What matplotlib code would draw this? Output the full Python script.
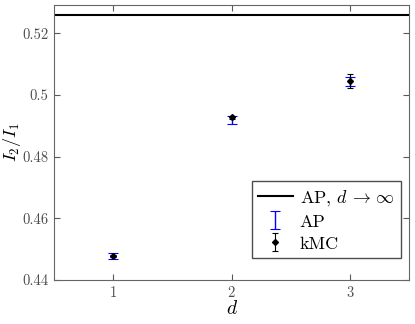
import matplotlib
matplotlib.use("Agg")
import matplotlib.pyplot as plt
from matplotlib.ticker import FuncFormatter

plt.rcParams['font.family'] = 'serif'
plt.rcParams['font.serif'] = ['cmr10', 'DejaVu Serif']
plt.rcParams['mathtext.fontset'] = 'cm'
plt.rcParams['axes.formatter.use_mathtext'] = True

d = [1, 2, 3]
ap_vals = [0.4478, 0.4920, 0.5044]
ap_err = [0.0010, 0.0013, 0.0015]
kmc_vals = [0.4478, 0.4928, 0.5046]
kmc_err = [0.0004, 0.0004, 0.0022]
ap_limit = 0.5260

fig = plt.figure(figsize=(4.15, 3.24), dpi=100)
ax = fig.add_axes([0.130, 0.136, 0.856, 0.850])

ax.axhline(ap_limit, color='black', lw=1.5, label=r'AP, $d\,\to\,\infty$')
ax.errorbar(d, ap_vals, yerr=ap_err, fmt='none', ecolor='blue', elinewidth=1,
            capsize=3.5, capthick=0.8, label='AP')
ax.errorbar(d, kmc_vals, yerr=kmc_err, fmt='D', color='black', markersize=3,
            elinewidth=0.8, capsize=2, capthick=0.8, label='kMC')

ax.set_xlim(0.5, 3.5)
ax.set_ylim(0.44, 0.5294)
ax.set_xticks([1, 2, 3])
ax.set_yticks([0.44, 0.46, 0.48, 0.5, 0.52])
ax.yaxis.set_major_formatter(FuncFormatter(lambda v, p: '%g' % round(v, 3)))
ax.tick_params(direction='in', top=True, right=True, labelsize=10.5,
               colors='0.35', labelcolor='0.3', length=4, pad=4)
for s in ax.spines.values():
    s.set_color('0.4')

ax.set_xlabel(r'$d$', fontsize=14, labelpad=0)
ax.set_ylabel(r'$I_2/I_1$', fontsize=13)
ax.yaxis.set_label_coords(-0.088, 0.5)

leg = ax.legend(loc='lower right', bbox_to_anchor=(0.977, 0.08), borderaxespad=0,
                fontsize=13, fancybox=False, framealpha=1, edgecolor='0.3',
                handlelength=1.9, labelspacing=0.35, borderpad=0.35,
                handletextpad=0.4)
leg.get_frame().set_linewidth(1.0)

fig.savefig('out.png', dpi=100)
